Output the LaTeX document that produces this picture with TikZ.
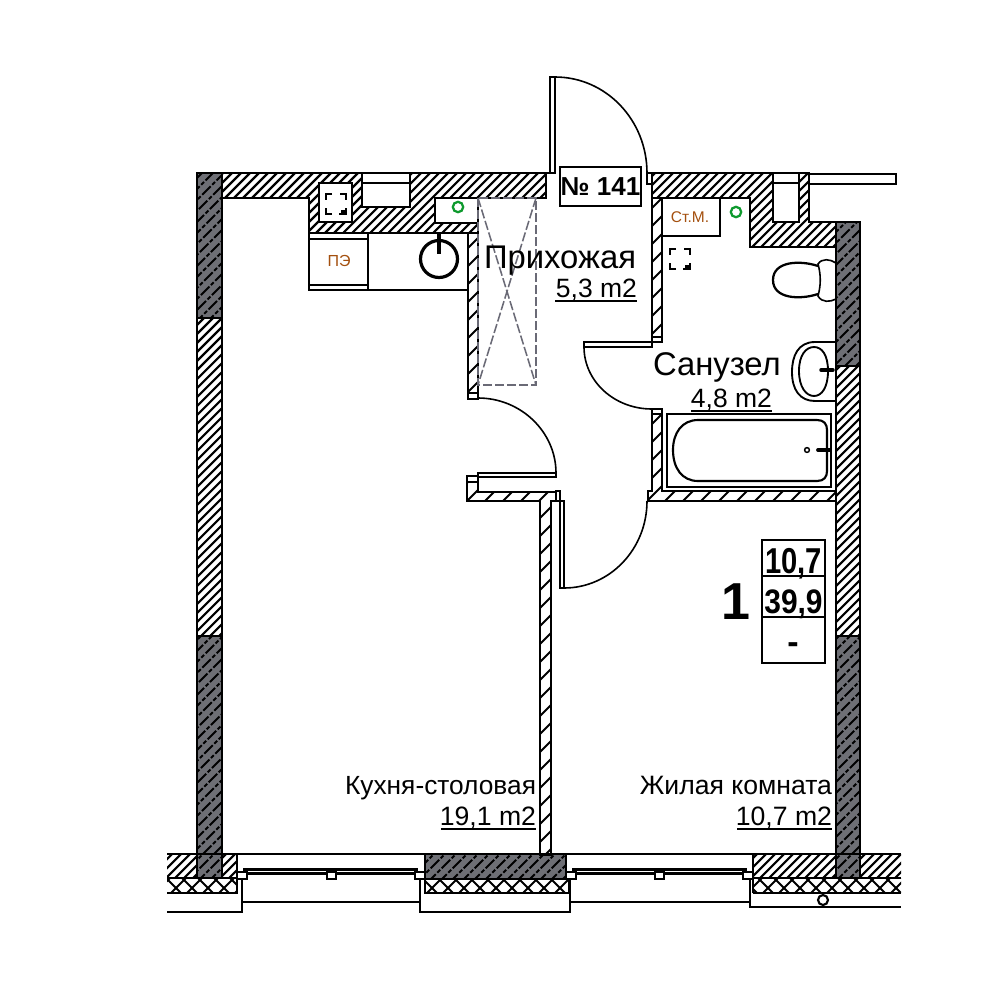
\documentclass[tikz,border=0pt]{standalone}
\usepackage{fontspec}
\setmainfont{Liberation Sans}
\definecolor{darkwall}{HTML}{6E6F75}
\definecolor{brownlab}{HTML}{A4500F}
\definecolor{greenmark}{HTML}{0E9A2E}
\definecolor{greydash}{HTML}{6A6A76}
\newcommand{\px}[1]{\fontsize{\fpeval{#1*0.75}}{\fpeval{#1*0.9}}\selectfont}
% wall outlines
\def\wallTL{(222,173) -- (546,173) -- (546,198) -- (435,198) -- (435,223) -- (478,223) -- (478,233) -- (309,233) -- (309,198) -- (222,198) -- cycle}
\def\wallTR{(652,173) -- (773,173) -- (773,222) -- (799,222) -- (799,173) -- (809,173) -- (809,222) -- (836,222) -- (836,247) -- (750,247) -- (750,198) -- (652,198) -- cycle}
\def\wallL{(197,318) rectangle (222,636)}
\def\wallR{(836,366) rectangle (860,636)}
\def\bandA{(167,854) rectangle (197,878)}
\def\bandB{(222,854) rectangle (237,878)}
\def\bandC{(753,854) rectangle (836,878)}
\def\bandD{(860,854) rectangle (901,878)}
\def\darkA{(197,173) rectangle (222,318)}
\def\darkB{(197,636) rectangle (222,878)}
\def\darkC{(836,222) rectangle (860,366)}
\def\darkD{(836,636) rectangle (860,878)}
\def\darkE{(425,854) rectangle (566,879)}
\def\thinA{(468,233) -- (478,233) -- (478,398) -- (468,398) -- cycle}
\def\thinB{(652,198) -- (662,198) -- (662,342) -- (652,342) -- cycle}
\def\thinC{(652,409) -- (662,409) -- (662,491) -- (836,491) -- (836,501) -- (648,501) -- (648,491) -- (652,491) -- cycle}
\def\thinD{(478,476) -- (478,492) -- (556,492) -- (556,501) -- (551,501) -- (551,855) -- (540,855) -- (540,501) -- (467,501) -- (467,476) -- cycle}
\def\insA{(167,878) rectangle (237,893)}
\def\insB{(425,879) rectangle (569,893)}
\def\insC{(753,878) rectangle (901,893)}
\newcommand{\ventmark}[2]{%
  \draw[wallline,line width=1.8pt] ({#1-4},{#2-10}) -- ({#1-10},{#2-10}) -- ({#1-10},{#2-4});
  \draw[wallline,line width=1.8pt] ({#1+4},{#2-10}) -- ({#1+10},{#2-10}) -- ({#1+10},{#2-4});
  \draw[wallline,line width=1.8pt] ({#1-4},{#2+10}) -- ({#1-10},{#2+10}) -- ({#1-10},{#2+4});
  \draw[wallline,line width=1.8pt] ({#1+3},{#2+10}) -- ({#1+10},{#2+10}) -- ({#1+10},{#2+4});
  \fill[black] ({#1+5},{#2+6}) rectangle ({#1+10},{#2+10});
}
\newcommand{\windowunit}[5]{% x1 x2 sqL sqM sqR
  \fill[black] (#1,868) rectangle (#2,875);
  \draw[white,line width=0.6pt] ({#1+3},871.5) -- ({#2-3},871.5);
  \draw[thinline,fill=white] (#3,872) rectangle ({#3+10},879);
  \draw[thinline,fill=white] (#4,872) rectangle ({#4+9},879);
  \draw[thinline,fill=white] (#5,872) rectangle ({#5+10},879);
}
\tikzset{
  wallline/.style={line width=2pt,draw=black,line join=miter},
  thinline/.style={line width=1.1pt,draw=black},
  medline/.style={line width=1.6pt,draw=black},
  doorarc/.style={line width=1.2pt,draw=black},
  hatchline/.style={line width=1.6pt,black},
  thinhatch/.style={line width=1.4pt,black},
  darkline/.style={line width=1.4pt,black,dash pattern=on 9pt off 1.6pt on 3pt off 1.6pt},
  crossline/.style={line width=1.5pt,black},
  txt/.style={inner sep=0pt,outer sep=0pt,text=black},
  greenring/.style={line width=1.7pt,draw=greenmark},
}
\begin{document}
\begin{tikzpicture}[x=0.75pt,y=-0.75pt]
\useasboundingbox (0,0) rectangle (1000,1000);
\fill[white] (0,0) rectangle (1000,1000);
% dark walls
\fill[darkwall] \darkA \darkB \darkC \darkD \darkE;
\begin{scope}
  \clip \darkA \darkB \darkC \darkD \darkE;
  \foreach \c in {375,386,...,1900} \draw[darkline] (\c,0) -- ({\c-1000},1000);
\end{scope}
% thick hatch
\begin{scope}
  \clip \wallTL \wallTR \wallL \wallR \bandA \bandB \bandC \bandD;
  \foreach \c in {360,369,...,1900} \draw[hatchline] (\c,0) -- ({\c-1000},1000);
\end{scope}
% thin hatch
\begin{scope}
  \clip \thinA \thinB \thinC \thinD;
  \foreach \c in {500,518,...,1500} \draw[thinhatch] (\c,0) -- ({\c-1000},1000);
\end{scope}
% insulation
\begin{scope}
  \clip \insA \insB \insC;
  \foreach \c in {1000,1016,...,1900} \draw[crossline] (\c,0) -- ({\c-1000},1000);
  \foreach \c in {-1000,-984,...,100} \draw[crossline] (\c,0) -- ({\c+1000},1000);
\end{scope}
% wall outlines
\draw[wallline] \wallTL;
\draw[wallline] \wallTR;
\draw[wallline] (197,173) rectangle (222,878);
\draw[wallline] (836,222) rectangle (860,878);
\draw[wallline] (197,318) -- (222,318) (197,636) -- (222,636);
\draw[wallline] (836,366) -- (860,366) (836,636) -- (860,636);
\draw[medline] \thinA;
\draw[medline] \thinB;
\draw[medline] \thinC;
\draw[medline] \thinD;
% wall caps
\draw[thinline,fill=white] (468,393) rectangle (478,399);
\draw[thinline,fill=white] (652,337) rectangle (662,342);
\draw[thinline,fill=white] (652,409) rectangle (662,414);
\draw[thinline,fill=white] (467,476) rectangle (478,482);
% niches top
\draw[wallline,fill=white] (362,173) rectangle (410,207);
\draw[medline] (362,183) -- (410,183);
\draw[wallline,fill=white] (319,183) rectangle (352,222);
\ventmark{336}{204}
\draw[wallline,fill=white] (773,173) rectangle (799,222);
\draw[medline] (773,183) -- (799,183);
\draw[wallline,fill=white] (809,174) rectangle (896,184);
\draw[medline,fill=white] (435,198) rectangle (478,223);
% service counter
\draw[medline] (309,233) -- (309,290) -- (468,290);
\draw[wallline] (368,233) -- (368,290);
\draw[thinline] (309,239) -- (368,239) (309,285) -- (368,285);
\draw[line width=2.4pt,draw=black] (439,259) circle[radius=18.5];
\draw[line width=2.4pt,draw=black] (439,233) -- (439,254);
\node[txt,text=brownlab,font=\px{16}] (pe) at (339,261) {ПЭ};
\draw[greenring] (458,207) circle[radius=5.2];
% entrance door
\draw[thinline] (550,173) -- (550,77) -- (555,77) -- (555,173) -- (546,173);
\draw[doorarc] (555,77) .. controls (606,77) and (647,120) .. (647,173);
\draw[thinline] (647,173) rectangle (652,184);
% flat number
\node[txt,draw=black,line width=1.3pt,fill=white,minimum width=81*0.75pt,minimum height=39*0.75pt,font=\px{26}\bfseries] (num) at (600.5,186.5) {№ 141};
% bathroom fittings
\draw[medline] (662,198) rectangle (720,236);
\node[txt,text=brownlab,font=\px{15.5}] (stm) at (690,217) {Ст.М.};
\draw[greenring] (736,212) circle[radius=5.2];
\ventmark{680}{259}
% toilet
\draw[line width=1.7pt] (818,266) .. controls (800,260) and (773,261) .. (773,280) .. controls (773,299) and (800,300) .. (818,294);
\draw[line width=1.2pt] (836,263) .. controls (830,259) and (822,258) .. (818,264) .. controls (821,275) and (821,285) .. (818,296) .. controls (822,303) and (830,302) .. (836,299);
% sink
\draw[line width=1.4pt] (836,342) -- (815,342) .. controls (798,342) and (792,356) .. (792,372) .. controls (792,390) and (800,401) .. (815,401) -- (836,401);
\draw[line width=1.4pt] (799,371) .. controls (799,355) and (806,347) .. (814,347) .. controls (822,347) and (828,355) .. (828,371) .. controls (828,387) and (822,396) .. (814,396) .. controls (806,396) and (799,387) .. (799,371) -- cycle;
\draw[line width=2.6pt,line cap=round] (821,370) -- (833,370);
% doors inside
\draw[thinline,fill=white] (584,342) rectangle (652,347);
\draw[doorarc] (584,347) .. controls (584,381) and (614,409) .. (652,409);
\draw[thinline,fill=white] (478,473) rectangle (556,477);
\draw[doorarc] (478,398) .. controls (521,398) and (556,432) .. (556,473);
\draw[thinline,fill=white] (560,501) rectangle (564,588);
\draw[thinline] (556,491) rectangle (560,501);
\draw[doorarc] (647,501) .. controls (647,549) and (610,588) .. (564,588);
% bath
\draw[medline] (667,414) rectangle (831,487);
\draw[medline] (698,420) -- (817,420) .. controls (824,420) and (827,424) .. (827,430) -- (827,471) .. controls (827,477) and (824,481) .. (817,481) -- (698,481) .. controls (682,481) and (673,468) .. (673,450) .. controls (673,433) and (682,420) .. (698,420) -- cycle;
\draw[thinline] (807,450) circle[radius=2.4];
\draw[line width=2.8pt,line cap=round] (818,450) -- (830,450);
% bottom band
\draw[wallline] (167,854) -- (237,854) -- (237,878);
\draw[wallline] (167,878) -- (197,878) (222,878) -- (237,878);
\draw[wallline] (167,893) -- (237,893) -- (237,878);
\draw[wallline] (753,854) -- (901,854);
\draw[wallline] (753,854) -- (753,893);
\draw[wallline] (753,878) -- (901,878);
\draw[wallline] (753,893) -- (901,893);
\draw[wallline] \darkE;
\draw[wallline] (425,879) -- (425,893) -- (569,893) -- (569,879);
\draw[wallline] (197,854) -- (197,878) (222,854) -- (222,878) (836,854) -- (836,878) (860,854) -- (860,878);
% windows
\draw[thinline] (237,854) -- (425,854) (566,854) -- (753,854);
\windowunit{243}{418}{237}{327}{415}
\windowunit{572}{747}{566}{655}{743}
\draw[thinline] (243,902) -- (420,902) (570,902) -- (750,902);
\draw[wallline] (167,912) -- (242,912) -- (242,878);
\draw[wallline] (420,878) -- (420,912) -- (570,912) -- (570,878);
\draw[wallline] (750,878) -- (750,907) -- (901,907);
\draw[medline,fill=white] (823,900) circle[radius=5];
% grey hidden zone
\draw[line width=1.15pt,draw=greydash,dash pattern=on 7pt off 2pt] (478,198) rectangle (536,385);
\draw[line width=1.15pt,draw=greydash,dash pattern=on 7pt off 2pt] (478,198) -- (536,385) (536,198) -- (478,385);
% labels
\node[txt,anchor=base west,font=\px{32.8}] (pri) at (484,268) {Прихожая};
\node[txt,anchor=base east,font=\px{26.5}] (a53) at (637,297) {5,3 m2};
\draw[thinline] (555,301) -- (637,301);
\node[txt,anchor=base west,font=\px{32.8}] (san) at (653,375) {Санузел};
\node[txt,anchor=base east,font=\px{26.5}] (a48) at (772,407) {4,8 m2};
\draw[thinline] (691,411) -- (772,411);
\node[txt,anchor=base east,font=\px{26.3}] (kit) at (536,794) {Кухня-столовая};
\node[txt,anchor=base east,font=\px{26.6}] (a19) at (536,825) {19,1 m2};
\draw[thinline] (441,829) -- (536,829);
\node[txt,anchor=base east,font=\px{26.6}] (liv) at (832,794) {Жилая комната};
\node[txt,anchor=base east,font=\px{26.6}] (a10) at (832,825) {10,7 m2};
\draw[thinline] (737,829) -- (832,829);
% table
\draw[medline] (762,540) rectangle (825,663);
\draw[medline] (761,576) -- (826,576) (761,617) -- (826,617);
\node[txt,anchor=base,font=\px{36}\bfseries] (t1) at (793.5,573) {\scalebox{.81}[1]{10,7}};
\node[txt,anchor=base,font=\px{34}\bfseries] (t2) at (793.5,613) {\scalebox{.88}[1]{39,9}};
\node[txt,anchor=base,font=\px{34}\bfseries] (t3) at (793,653) {-};
\node[txt,anchor=base,font=\px{52}\bfseries] (rooms) at (736,619) {1};
\end{tikzpicture}
\end{document}
